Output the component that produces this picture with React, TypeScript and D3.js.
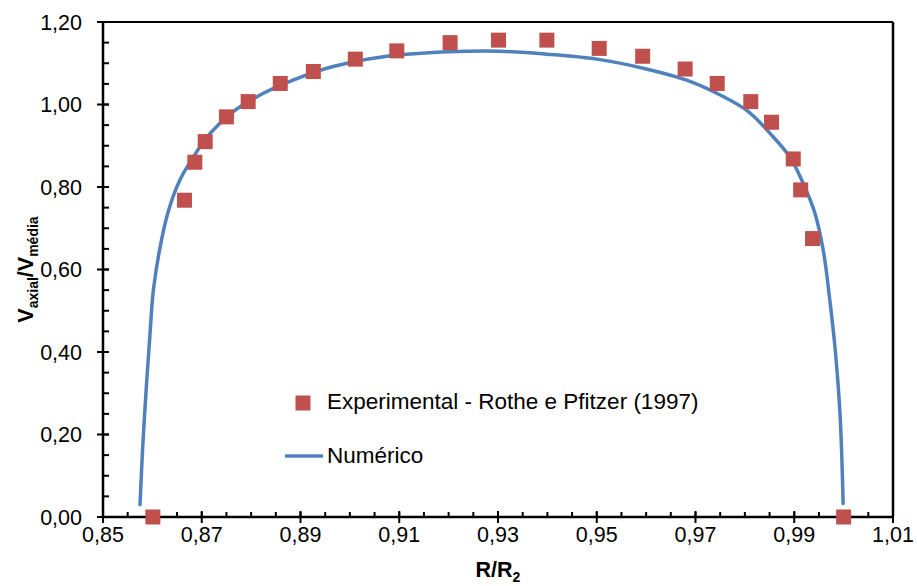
import React from "react";
import * as d3 from "d3";

const expX = [0.8601, 0.8665, 0.8686, 0.8707, 0.875, 0.8794, 0.8859, 0.8926, 0.9011, 0.9095, 0.9203, 0.9301, 0.9399, 0.9505, 0.9593, 0.9679, 0.9744, 0.9812, 0.9854, 0.9898, 0.9913, 0.9937, 1.0];
const expY = [0.0, 0.768, 0.86, 0.91, 0.97, 1.007, 1.051, 1.08, 1.11, 1.13, 1.15, 1.156, 1.156, 1.136, 1.117, 1.086, 1.051, 1.007, 0.957, 0.868, 0.793, 0.675, 0.0];

const numX = [0.8575, 0.858, 0.8588, 0.8595, 0.8602, 0.8615, 0.8632, 0.8655, 0.8683, 0.8717, 0.8764, 0.8818, 0.8885, 0.8966, 0.9068, 0.9169, 0.9237, 0.9304, 0.94, 0.95, 0.9594, 0.9682, 0.975, 0.9807, 0.9851, 0.9891, 0.9918, 0.9942, 0.9959, 0.9972, 0.9983, 0.9993, 0.9999];
const numY = [0.03, 0.16, 0.32, 0.44, 0.55, 0.65, 0.74, 0.815, 0.873, 0.93, 0.983, 1.023, 1.059, 1.092, 1.116, 1.126, 1.129, 1.129, 1.122, 1.11, 1.088, 1.059, 1.023, 0.983, 0.93, 0.873, 0.809, 0.736, 0.645, 0.526, 0.405, 0.243, 0.033];

const xTicks = [0.85, 0.87, 0.89, 0.91, 0.93, 0.95, 0.97, 0.99, 1.01];
const yTicks = [0, 0.2, 0.4, 0.6, 0.8, 1.0, 1.2];

const legendExp = "Experimental - Rothe e Pfitzer (1997)";
const legendNum = "Numérico";

const W = 917;
const H = 586;
const L = 103, R = 893, T = 22, B = 517;
const FONT = "Arial, 'Liberation Sans', sans-serif";
const RED = "#C0504D";
const BLUE = "#4F81BD";

export default function App() {
  const x = d3.scaleLinear().domain([0.85, 1.01]).range([L, R]);
  const y = d3.scaleLinear().domain([0, 1.2]).range([B, T]);
  const fmt = (v: number) => v.toFixed(2).replace(".", ",");

  const xMinor = d3.range(0, 33).map((i) => 0.85 + i * 0.005);
  const yMinor = d3.range(0, 25).map((i) => i * 0.05);

  const line = d3
    .line<number>()
    .x((_, i) => x(numX[i]))
    .y((d) => y(d))
    .curve(d3.curveCatmullRom.alpha(0.5));

  const sq = 15;

  return (
    <svg
      width={W}
      height={H}
      style={{ position: "absolute", left: 0, top: 0, display: "block", background: "#fff" }}
      fontFamily={FONT}
    >
      {/* frame */}
      <line x1={L} x2={R} y1={T} y2={T} stroke="#000" strokeWidth={2} />
      <line x1={R} x2={R} y1={T} y2={B} stroke="#000" strokeWidth={2.5} />

      {/* minor ticks */}
      {xMinor.map((v, i) => (
        <line key={"xm" + i} x1={x(v)} x2={x(v)} y1={B} y2={B - 5} stroke="#000" strokeWidth={2} />
      ))}
      {yMinor.map((v, i) => (
        <line key={"ym" + i} x1={L} x2={L + 6} y1={y(v)} y2={y(v)} stroke="#000" strokeWidth={2} />
      ))}
      {/* major ticks */}
      {xTicks.map((v, i) => (
        <line key={"xt" + i} x1={x(v)} x2={x(v)} y1={B - 6} y2={B + 6} stroke="#000" strokeWidth={2} />
      ))}
      {yTicks.map((v, i) => (
        <line key={"yt" + i} x1={L - 6} x2={L + 6} y1={y(v)} y2={y(v)} stroke="#000" strokeWidth={2} />
      ))}

      {/* axes */}
      <line x1={L} x2={R} y1={B} y2={B} stroke="#000" strokeWidth={2.5} />
      <line x1={L} x2={L} y1={T} y2={B} stroke="#000" strokeWidth={2.5} />

      {/* tick labels */}
      {xTicks.map((v, i) => (
        <text key={"xl" + i} x={x(v)} y={542} textAnchor="middle" fontSize={21.5} fill="#000">
          {fmt(v)}
        </text>
      ))}
      {yTicks.map((v, i) => (
        <text key={"yl" + i} x={82} y={y(v) + 7.5} textAnchor="end" fontSize={21.5} fill="#000">
          {fmt(v)}
        </text>
      ))}

      {/* axis titles */}
      <text x={(L + R) / 2} y={577} textAnchor="middle" fontSize={21.5} fontWeight="bold" fill="#000">
        R/R<tspan fontSize={14} dy={5}>2</tspan>
      </text>
      <text
        transform={`translate(33,${(T + B) / 2}) rotate(-90)`}
        textAnchor="middle"
        fontSize={21.5}
        fontWeight="bold"
        fill="#000"
      >
        V<tspan fontSize={14} dy={5}>axial</tspan>
        <tspan dy={-5}>/V</tspan>
        <tspan fontSize={14} dy={5}>média</tspan>
      </text>

      {/* numeric line */}
      <path d={line(numY) || ""} fill="none" stroke={BLUE} strokeWidth={3.5} strokeLinejoin="round" strokeLinecap="round" />

      {/* experimental points */}
      {expX.map((v, i) => (
        <rect
          key={"p" + i}
          x={x(v) - sq / 2}
          y={y(expY[i]) - sq / 2}
          width={sq}
          height={sq}
          fill={RED}
        />
      ))}

      {/* legend */}
      <rect x={303 - sq / 2} y={403 - sq / 2} width={sq} height={sq} fill={RED} />
      <text x={327} y={409} fontSize={22.5} fill="#000">{legendExp}</text>
      <line x1={285} x2={323} y1={456} y2={456} stroke={BLUE} strokeWidth={3.5} />
      <text x={327} y={462.5} fontSize={22.5} fill="#000">{legendNum}</text>
    </svg>
  );
}
